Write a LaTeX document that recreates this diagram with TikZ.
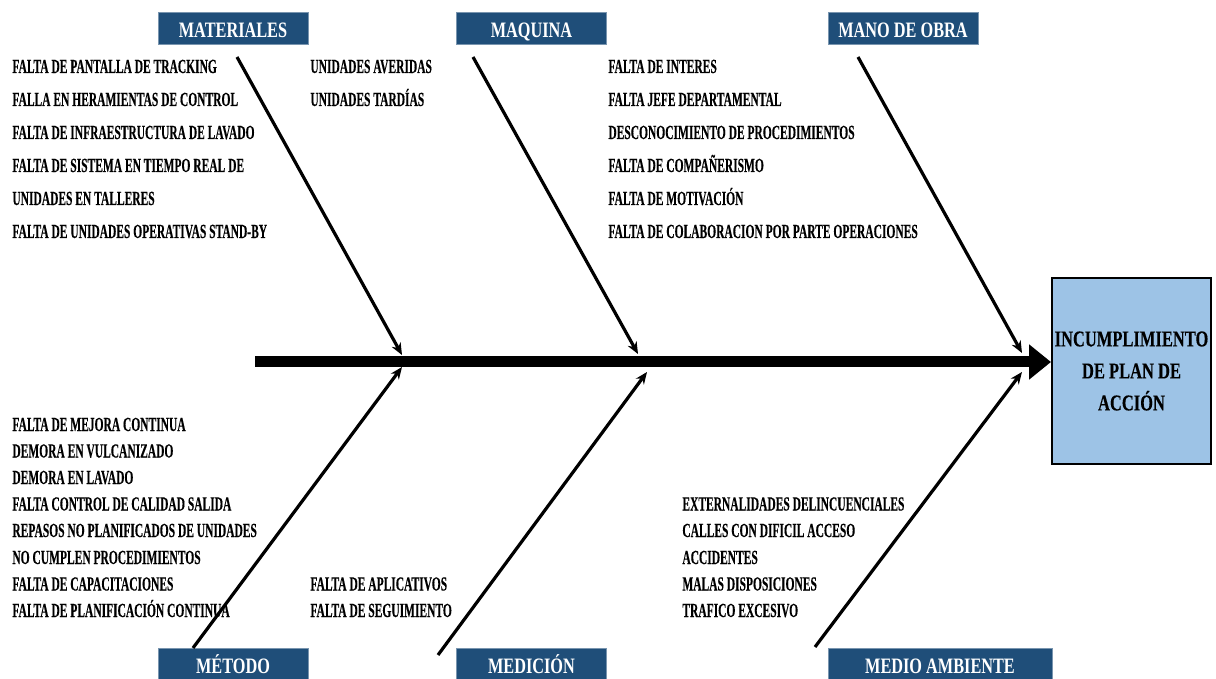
\documentclass[tikz,border=0pt]{standalone}
\usepackage{fontspec}
\setmainfont{Liberation Serif}
\usepackage{tikz}
\usetikzlibrary{arrows.meta,positioning}
\newfontfamily\causefont[FakeStretch=0.575, FakeBold=0.3]{Liberation Serif Bold}
\newfontfamily\headfont[FakeStretch=0.74]{Liberation Serif Bold}
\newfontfamily\effectfont[FakeStretch=0.73, FakeBold=0.2]{Liberation Serif Bold}
\definecolor{headBlue}{HTML}{1F4E79}
\definecolor{effectBlue}{HTML}{9DC3E6}

\begin{document}
\begin{tikzpicture}[
    x=0.5pt, y=-0.5pt,
    head/.style={rectangle, fill=headBlue, draw=headBlue!60, minimum width=75pt, minimum height=16pt, inner sep=0pt, text height=10pt, text depth=0.7pt, text=white, font=\headfont\fontsize{11}{13}\selectfont},
    cause/.style={anchor=base west, inner sep=0pt, font=\causefont\fontsize{10}{12}\selectfont},
    effect/.style={rectangle, draw, line width=1pt, fill=effectBlue, minimum width=79.5pt, minimum height=93pt, inner sep=1pt, align=center, font=\effectfont\fontsize{11.3}{16}\selectfont},
    bone/.style={-{Stealth[length=6pt, width=5pt]}, line width=1.6pt},
    spine/.style={-{Triangle[length=11pt, width=17pt]}, line width=5.5pt}
]
\useasboundingbox (0,0) rectangle (1216,679);

% Category headers
\node[head] (materiales) at (233,28) {MATERIALES};
\node[head] (maquina) at (531.5,28) {MAQUINA};
\node[head] (manoobra) at (903,28) {MANO DE OBRA};
\node[head] (metodo) at (233,664) {MÉTODO};
\node[head] (medicion) at (531.5,664) {MEDICIÓN};
\node[head, minimum width=112pt] (medioamb) at (940,664) {MEDIO AMBIENTE};

% Effect
\node[effect] (efecto) at (1131.5,371) {INCUMPLIMIENTO\\DE PLAN DE\\ACCIÓN};

% Spine
\coordinate (tail) at (255,362);
\draw[spine] (tail) -- (tail -| efecto.west);

% Bones
\coordinate (matTop) at (237,57);
\coordinate (matEnd) at (402,355);
\coordinate (maqTop) at (473,57);
\coordinate (maqEnd) at (638,354);
\coordinate (moTop) at (858,57);
\coordinate (moEnd) at (1022,353);
\coordinate (metBot) at (193,648);
\coordinate (metEnd) at (402,367);
\coordinate (medBot) at (438,655);
\coordinate (medEnd) at (647,372);
\coordinate (ambBot) at (815,647);
\coordinate (ambEnd) at (1022,372);
\draw[bone] (matTop) -- (matEnd);
\draw[bone] (maqTop) -- (maqEnd);
\draw[bone] (moTop) -- (moEnd);
\draw[bone] (metBot) -- (metEnd);
\draw[bone] (medBot) -- (medEnd);
\draw[bone] (ambBot) -- (ambEnd);

% Causes, upper half
\node[cause] (mat1) at (12,73) {FALTA DE PANTALLA DE TRACKING};
\node[cause] (mat2) at (12,106) {FALLA EN HERAMIENTAS DE CONTROL};
\node[cause] (mat3) at (12,139) {FALTA DE INFRAESTRUCTURA DE LAVADO};
\node[cause] (mat4) at (12,172) {FALTA DE SISTEMA EN TIEMPO REAL DE};
\node[cause] (mat5) at (12,205) {UNIDADES EN TALLERES};
\node[cause] (mat6) at (12,238) {FALTA DE UNIDADES OPERATIVAS STAND-BY};
\node[cause] (maq1) at (310,73) {UNIDADES AVERIDAS};
\node[cause] (maq2) at (310,106) {UNIDADES TARDÍAS};
\node[cause] (mo1) at (608,73) {FALTA DE INTERES};
\node[cause] (mo2) at (608,106) {FALTA JEFE DEPARTAMENTAL};
\node[cause] (mo3) at (608,139) {DESCONOCIMIENTO DE PROCEDIMIENTOS};
\node[cause] (mo4) at (608,172) {FALTA DE COMPAÑERISMO};
\node[cause] (mo5) at (608,205) {FALTA DE MOTIVACIÓN};
\node[cause] (mo6) at (608,238) {FALTA DE COLABORACION POR PARTE OPERACIONES};

% Causes, lower half
\node[cause] (met1) at (12,431) {FALTA DE MEJORA CONTINUA};
\node[cause] (met2) at (12,457.5) {DEMORA EN VULCANIZADO};
\node[cause] (met3) at (12,484) {DEMORA EN LAVADO};
\node[cause] (met4) at (12,510.5) {FALTA CONTROL DE CALIDAD SALIDA};
\node[cause] (met5) at (12,537) {REPASOS NO PLANIFICADOS DE UNIDADES};
\node[cause] (met6) at (12,564) {NO CUMPLEN PROCEDIMIENTOS};
\node[cause] (met7) at (12,590.5) {FALTA DE CAPACITACIONES};
\node[cause] (met8) at (12,617) {FALTA DE PLANIFICACIÓN CONTINUA};
\node[cause] (med1) at (310,590.5) {FALTA DE APLICATIVOS};
\node[cause] (med2) at (310,617) {FALTA DE SEGUIMIENTO};
\node[cause] (amb1) at (682,510.5) {EXTERNALIDADES DELINCUENCIALES};
\node[cause] (amb2) at (682,537) {CALLES CON DIFICIL ACCESO};
\node[cause] (amb3) at (682,564) {ACCIDENTES};
\node[cause] (amb4) at (682,590.5) {MALAS DISPOSICIONES};
\node[cause] (amb5) at (682,617) {TRAFICO EXCESIVO};

\end{tikzpicture}
\end{document}
